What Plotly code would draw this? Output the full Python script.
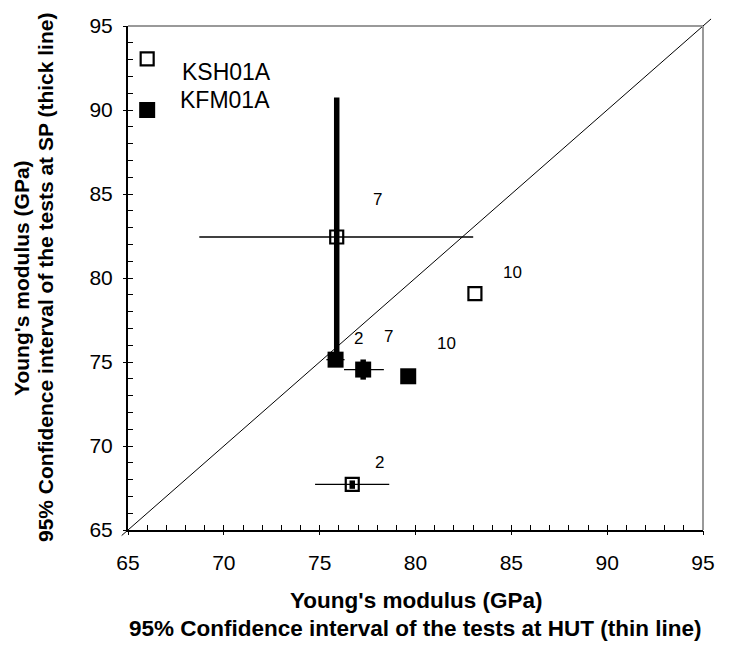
import plotly.graph_objects as go

# ---- data ----
ksh_x = [75.89, 83.10, 76.70]
ksh_y = [82.44, 79.07, 67.71]
ksh_lab = ["7", "10", "2"]
ksh_hut_lo = [68.72, None, 74.76]
ksh_hut_hi = [83.01, None, 78.63]
ksh_sp_lo = [75.40, None, 67.45]
ksh_sp_hi = [90.75, None, 67.95]

kfm_x = [75.83, 77.27, 79.62]
kfm_y = [75.14, 74.55, 74.15]
kfm_lab = ["2", "7", "10"]
kfm_hut_lo = [75.35, 76.27, None]
kfm_hut_hi = [76.30, 78.35, None]
kfm_sp_lo = [None, 73.95, None]
kfm_sp_hi = [None, 75.15, None]

legend_names = ["KSH01A", "KFM01A"]
legend_x = [66.0, 66.0]
legend_y = [93.04, 90.0]

x_range = [65, 95]
y_range = [65, 95]
ticks = [65, 70, 75, 80, 85, 90, 95]

FONT = "Liberation Sans, Arial, sans-serif"


def hbars(ys, lo, hi):
    px, py = [], []
    for y, a, b in zip(ys, lo, hi):
        if a is None:
            continue
        px += [a, b, None]
        py += [y, y, None]
    return px, py


def vbars(xs, lo, hi):
    px, py = [], []
    for x, a, b in zip(xs, lo, hi):
        if a is None:
            continue
        px += [x, x, None]
        py += [a, b, None]
    return px, py


fig = go.Figure()

# thin HUT bars
for ys, lo, hi in [(ksh_y, ksh_hut_lo, ksh_hut_hi), (kfm_y, kfm_hut_lo, kfm_hut_hi)]:
    bx, by = hbars(ys, lo, hi)
    fig.add_trace(go.Scatter(x=bx, y=by, mode="lines", line=dict(color="black", width=1.3),
                             showlegend=False, hoverinfo="skip"))
# thick SP bars
for xs, lo, hi in [(ksh_x, ksh_sp_lo, ksh_sp_hi), (kfm_x, kfm_sp_lo, kfm_sp_hi)]:
    bx, by = vbars(xs, lo, hi)
    fig.add_trace(go.Scatter(x=bx, y=by, mode="lines", line=dict(color="black", width=5.5),
                             showlegend=False, hoverinfo="skip"))

# markers
fig.add_trace(go.Scatter(x=ksh_x, y=ksh_y, mode="markers", name="KSH01A",
                         marker=dict(symbol="square-open", size=13, color="black", line=dict(width=2.2)),
                         showlegend=False))
fig.add_trace(go.Scatter(x=kfm_x, y=kfm_y, mode="markers", name="KFM01A",
                         marker=dict(symbol="square", size=16, color="black", line=dict(width=0)),
                         showlegend=False))

# legend-like markers inside the plot
fig.add_trace(go.Scatter(x=[legend_x[0]], y=[legend_y[0]], mode="markers",
                         marker=dict(symbol="square-open", size=13, color="black", line=dict(width=2.2)),
                         showlegend=False, hoverinfo="skip"))
fig.add_trace(go.Scatter(x=[legend_x[1]], y=[legend_y[1]], mode="markers",
                         marker=dict(symbol="square", size=16, color="black"),
                         showlegend=False, hoverinfo="skip"))

ann = []
for name, lx, ly, dx, dy in zip(legend_names, legend_x, legend_y, [33, 31], [-13, 10]):
    ann.append(dict(x=lx, y=ly, xref="x", yref="y", text=name, showarrow=False,
                    xanchor="left", yanchor="middle", xshift=dx, yshift=dy,
                    font=dict(family=FONT, size=23, color="black")))

ksh_off = [(41, 38), (38, 21), (27, 22)]
kfm_off = [(23, 21), (25, 33), (38, 33)]
for xs, ys, labs, offs in [(ksh_x, ksh_y, ksh_lab, ksh_off), (kfm_x, kfm_y, kfm_lab, kfm_off)]:
    for x, y, t, (dx, dy) in zip(xs, ys, labs, offs):
        ann.append(dict(x=x, y=y, xref="x", yref="y", text=t, showarrow=False,
                        xanchor="center", yanchor="middle", xshift=dx, yshift=dy,
                        font=dict(family=FONT, size=17, color="black")))

# axis titles
xt_font = dict(family=FONT, size=22.5, color="black")
yt_font = dict(family=FONT, size=21, color="black")
ann.append(dict(x=0.5, y=0, xref="paper", yref="paper", text="<b>Young's modulus (GPa)</b>",
                showarrow=False, font=xt_font, yanchor="middle", yshift=-70))
ann.append(dict(x=0.5, y=0, xref="paper", yref="paper",
                text="<b>95% Confidence interval of the tests at HUT (thin line)</b>",
                showarrow=False, font=xt_font, yanchor="middle", yshift=-98))
ann.append(dict(x=0, y=0.5, xref="paper", yref="paper", text="<b>Young's modulus (GPa)</b>",
                showarrow=False, font=yt_font, textangle=-90, xanchor="center", xshift=-107))
ann.append(dict(x=0, y=0.5, xref="paper", yref="paper",
                text="<b>95% Confidence interval of the tests at SP (thick line)</b>",
                showarrow=False, font=yt_font, textangle=-90, xanchor="center", xshift=-83))

# 1:1 line (slightly beyond the frame as in the reference)
ext = 0.33 / (x_range[1] - x_range[0])
shapes = [
    dict(type="line", xref="paper", yref="paper", x0=-ext, y0=-ext, x1=1 + ext + 0.003, y1=1 + ext + 0.003,
         line=dict(color="black", width=1)),
    dict(type="line", xref="paper", yref="paper", x0=0, y0=1, x1=1, y1=1,
         line=dict(color="#999999", width=2)),
    dict(type="line", xref="paper", yref="paper", x0=1, y0=0, x1=1, y1=1,
         line=dict(color="#999999", width=2)),
]

axis_common = dict(showgrid=False, zeroline=False, showline=True, linecolor="black", linewidth=2,
                   tickmode="array", tickvals=ticks, ticktext=[str(t) for t in ticks],
                   ticks="inside", ticklen=5, tickcolor="black", tickwidth=1,
                   minor=dict(ticks="inside", ticklen=5, dtick=1, tickcolor="black", tickwidth=1),
                   tickfont=dict(family=FONT, size=21, color="black"))

fig.update_layout(
    width=734, height=645,
    margin=dict(l=128, r=31, t=26, b=114.5),
    paper_bgcolor="white", plot_bgcolor="white",
    xaxis=dict(range=x_range, ticklabelstandoff=13, **axis_common),
    yaxis=dict(range=y_range, ticklabelstandoff=9, **axis_common),
    xaxis2=dict(overlaying="x", matches="x", range=x_range, side="bottom", showgrid=False, zeroline=False,
                tickmode="array", tickvals=ticks, ticks="outside", ticklen=4, tickcolor="black",
                showticklabels=False, showline=False),
    yaxis2=dict(overlaying="y", matches="y", range=y_range, side="left", showgrid=False, zeroline=False,
                tickmode="array", tickvals=ticks, ticks="outside", ticklen=4, tickcolor="black",
                showticklabels=False, showline=False),
    shapes=shapes,
    annotations=ann,
    showlegend=False,
)
# dummy trace to activate the overlay axes
fig.add_trace(go.Scatter(x=[None], y=[None], xaxis="x2", yaxis="y2", showlegend=False, hoverinfo="skip"))

fig.write_html("out.html")
